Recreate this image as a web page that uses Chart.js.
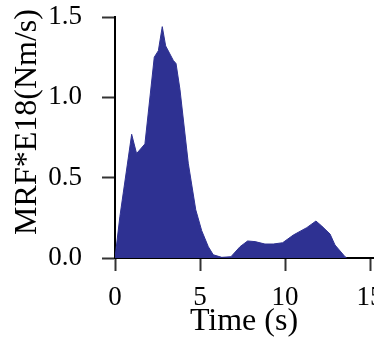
<!DOCTYPE html>
<html>
<head>
<meta charset="utf-8">
<script src="https://cdn.jsdelivr.net/npm/chart.js@4"></script>
<style>
  html, body { margin: 0; padding: 0; background: #fff; }
  #wrap { width: 374px; height: 341px; }
</style>
</head>
<body>
<div id="wrap"><canvas id="mrfChart" width="374" height="341"></canvas></div>
<script>
// moment rate function
const times = [0, 0.29, 0.98, 1.27, 1.76, 2.31, 2.55, 2.78, 2.98, 3.43, 3.59, 3.82, 4.31, 4.75, 5.10, 5.49, 5.78, 6.28, 6.82, 7.35, 7.80, 8.24, 8.82, 9.31, 9.86, 10.49, 11.28, 11.82, 12.16, 12.65, 12.94, 13.53, 13.63];
const mrf = [0, 0.26, 0.77, 0.65, 0.71, 1.25, 1.29, 1.44, 1.32, 1.23, 1.21, 1.05, 0.59, 0.30, 0.17, 0.07, 0.02, 0.004, 0.008, 0.07, 0.106, 0.102, 0.087, 0.087, 0.095, 0.143, 0.189, 0.230, 0.199, 0.149, 0.081, 0.008, 0];
const xTicks = [0, 5, 10, 15];
const yTicks = [0, 0.5, 1.0, 1.5];
const yTitle = 'MRF*E18(Nm/s)';

const serif = 'Liberation Serif';
const points = times.map((t, i) => ({ x: t, y: mrf[i] }));

// y title sits a bit above the middle of the axis in the original
const yTitlePlugin = {
    id: 'yTitle',
    afterDraw(chart) {
        const ctx = chart.ctx;
        ctx.save();
        ctx.translate(28, 122);
        ctx.rotate(-Math.PI / 2);
        ctx.font = '32px "' + serif + '"';
        ctx.fillStyle = '#000';
        ctx.textAlign = 'center';
        ctx.textBaseline = 'middle';
        ctx.fillText(yTitle, 0, 0);
        ctx.restore();
    }
};

new Chart(document.getElementById('mrfChart'), {
    type: 'line',
    data: {
        datasets: [{
            data: points,
            fill: 'origin',
            backgroundColor: '#2e3192',
            borderColor: '#2e3192',
            borderWidth: 1,
            pointRadius: 0,
            tension: 0
        }]
    },
    options: {
        responsive: false,
        animation: false,
        layout: { padding: { top: 17, right: 1, left: 0, bottom: 0 } },
        plugins: { legend: { display: false }, tooltip: { enabled: false } },
        scales: {
            x: {
                type: 'linear',
                min: 0,
                max: 15.176,
                afterBuildTicks: s => { s.ticks = xTicks.map(v => ({ value: v })); },
                afterFit: s => { s.height = 83; s.paddingLeft = 0; s.paddingRight = 0; },
                border: { color: '#000', width: 2 },
                grid: { drawOnChartArea: false, drawTicks: true, tickLength: 13, tickColor: '#333', tickWidth: 2 },
                ticks: { color: '#000', padding: 11, maxRotation: 0, font: { family: serif, size: 27 } },
                title: { display: true, text: 'Time (s)', color: '#000', padding: { top: 0, bottom: 0 }, font: { family: serif, size: 32 } }
            },
            y: {
                min: 0,
                max: 1.5,
                afterBuildTicks: s => { s.ticks = yTicks.map(v => ({ value: v })); },
                afterFit: s => { s.width = 115; s.paddingTop = 0; s.paddingBottom = 0; },
                border: { color: '#000', width: 2 },
                grid: { drawOnChartArea: false, drawTicks: true, tickLength: 13, tickColor: '#333', tickWidth: 2 },
                ticks: { color: '#000', padding: 20, callback: v => v.toFixed(1), font: { family: serif, size: 27 } }
            }
        }
    },
    plugins: [yTitlePlugin]
});
</script>
</body>
</html>
